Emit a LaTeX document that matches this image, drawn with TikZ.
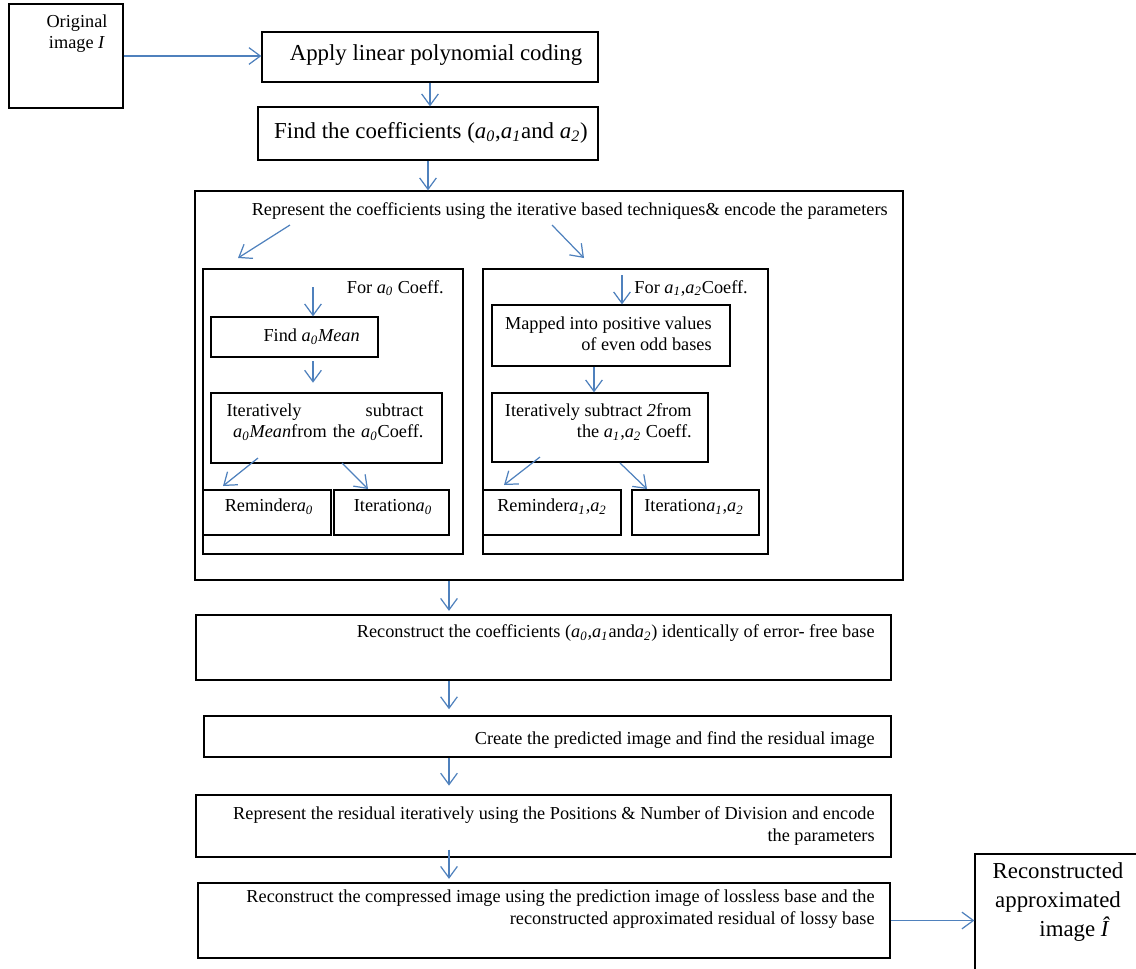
\documentclass[tikz,border=0pt]{standalone}
\usepackage{fontspec}
\setmainfont{Liberation Serif}
\usetikzlibrary{arrows.meta,fit}

\definecolor{arrblue}{RGB}{79,129,189}
\newcommand{\ai}[1]{\textit{a\textsubscript{#1}}}

\tikzset{
  box/.style={draw, line width=0.7pt, inner sep=0pt},
  txt/.style={inner sep=0pt, font=\fontsize{10.4}{12}\selectfont},
  bigtxt/.style={inner sep=0pt, font=\fontsize{13}{16.5}\selectfont},
  arr/.style={>={Straight Barb[length=6.5pt,width=9.5pt]}, ->, draw=arrblue, line width=0.7pt},
}

\begin{document}
\begin{tikzpicture}[x=0.02cm, y=-0.02cm]
  \useasboundingbox (0,0) rectangle (1136,968);

  % boxes
  \node[box, fit={(9,4) (123,108)}] (orig) {};
  \node[box, fit={(262,32) (598,82)}] (apply) {};
  \node[box, fit={(258,107) (598,160)}] (coef) {};
  \node[box, fit={(195,191) (903,580)}] (rep) {};
  \node[box, fit={(203,269) (463,554)}] (subL) {};
  \node[box, fit={(483,269) (768,554)}] (subR) {};
  \node[box, fit={(211,317) (378,357)}] (findM) {};
  \node[box, fit={(211,393) (442,463)}] (iterL) {};
  \node[box, fit={(203,490) (331,535)}] (remL) {};
  \node[box, fit={(334,490) (449,535)}] (itL) {};
  \node[box, fit={(492,305) (730,366)}] (mapR) {};
  \node[box, fit={(492,393) (708,462)}] (iterR) {};
  \node[box, fit={(483,490) (621,535)}] (remR) {};
  \node[box, fit={(632,490) (759,535)}] (itR) {};
  \node[box, fit={(196,615) (891,680)}] (recon) {};
  \node[box, fit={(204,716) (891,757)}] (create) {};
  \node[box, fit={(196,795) (891,857)}] (resid) {};
  \node[box, fit={(198,883) (890,958)}] (final) {};
  \node[box, fit={(975,854) (1145,980)}] (out) {};

  % texts
  \node[txt, align=center] (origT) at (77,34) {Original\\image \textit{I}};
  \node[bigtxt] (applyT) at (436,55) {Apply linear polynomial coding};
  \node[bigtxt] (coefT) at (431,133) {Find the coefficients (\ai{0},\ai{1}and \ai{2})};
  \node[txt, anchor=east] (repT) at (888,211)
    {Represent the coefficients using the iterative based techniques\& encode the parameters};
  \node[txt, anchor=east] (forA0) at (444,288) {For \ai{0} Coeff.};
  \node[txt, anchor=east] (findMT) at (360,337) {Find \ai{0}\textit{Mean}};
  \node[txt, align=right, text width=3.94cm] (iterLT) at (325,422)
    {Iteratively\hfill subtract\\\ai{0}\textit{Mean}from the \ai{0}Coeff.};
  \node[txt] (remLT) at (269,507) {Reminder\ai{0}};
  \node[txt] (itLT) at (393,507) {Iteration\ai{0}};
  \node[txt, anchor=east] (forA12) at (748,288) {For \ai{1},\ai{2}Coeff.};
  \node[txt, align=right, anchor=east] (mapT) at (712,334)
    {Mapped into positive values\\of even odd bases};
  \node[txt, align=right, anchor=east] (iterRT) at (692,422)
    {Iteratively subtract \textit{2}from\\the \ai{1},\ai{2} Coeff.};
  \node[txt] (remRT) at (552,507) {Reminder\ai{1},\ai{2}};
  \node[txt] (itRT) at (694,507) {Iteration\ai{1},\ai{2}};
  \node[txt, anchor=east] (reconT) at (875,633)
    {Reconstruct the coefficients (\ai{0},\ai{1}and\ai{2}) identically of error- free base};
  \node[txt, anchor=east] (createT) at (875,740)
    {Create the predicted image and find the residual image};
  \node[txt, align=right, anchor=east] (residT) at (875,826)
    {Represent the residual iteratively using the Positions \& Number of Division and encode\\the parameters};
  \node[txt, align=right, anchor=east] (finalT) at (875,909)
    {Reconstruct the compressed image using the prediction image of lossless base and the\\reconstructed approximated residual of lossy base};
  \node[bigtxt, align=center] (outT) at (1058,902)
    {Reconstructed\\approximated\\\hspace*{19pt}image \textit{Î}};

  % connectors
  \coordinate (col) at (449,0);
  \coordinate (r1) at (290,225);  \coordinate (r1e) at (238,258);
  \coordinate (r2) at (552,225);  \coordinate (r2e) at (584,258);
  \coordinate (a0in) at (313,287);
  \coordinate (a12in) at (622,275);
  \coordinate (c2) at (594,0);
  \coordinate (d1) at (258,458);  \coordinate (d1e) at (223,486);
  \coordinate (d2) at (342,463);  \coordinate (d2e) at (368,489);
  \coordinate (d3) at (540,457);  \coordinate (d3e) at (504,485);
  \coordinate (d4) at (620,463);  \coordinate (d4e) at (647,489);

  \draw[arr] (orig.east) -- (orig.east -| apply.west);
  \draw[arr] (apply.south) -- (apply.south |- coef.north);
  \draw[arr] (coef.south) -- (coef.south |- rep.north);
  \draw[arr] (r1) -- (r1e);
  \draw[arr] (r2) -- (r2e);
  \draw[arr] (a0in) -- (a0in |- findM.north);
  \draw[arr, shorten <=2pt, shorten >=5.5pt] (findM.south -| a0in) -- (iterL.north -| a0in);
  \draw[arr] (d1) -- (d1e);
  \draw[arr] (d2) -- (d2e);
  \draw[arr] (a12in) -- (a12in |- mapR.north);
  \draw[arr] (mapR.south -| c2) -- (iterR.north -| c2);
  \draw[arr] (d3) -- (d3e);
  \draw[arr] (d4) -- (d4e);
  \draw[arr, shorten >=2pt] (rep.south -| col) -- (recon.north -| col);
  \draw[arr, shorten >=3.5pt] (recon.south -| col) -- (create.north -| col);
  \draw[arr, shorten >=5pt] (create.south -| col) -- (resid.north -| col);
  \draw[arr, shorten <=-4.5pt, shorten >=2pt] (resid.south -| col) -- (final.north -| col);
  \draw[arr] (final.east) -- (final.east -| out.west);
\end{tikzpicture}
\end{document}
